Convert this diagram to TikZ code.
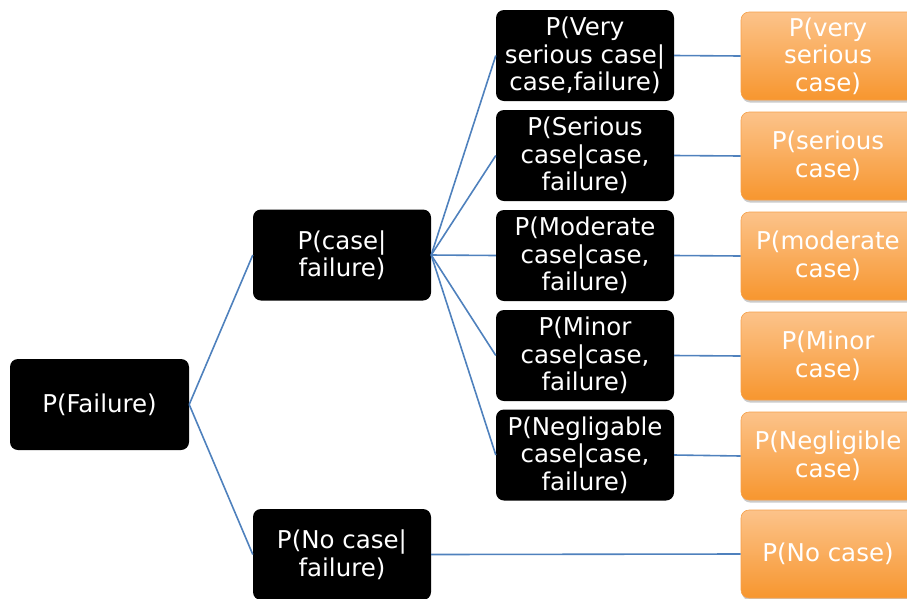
\documentclass[tikz,border=0pt]{standalone}
\usepackage{fontspec}
\setmainfont{DejaVu Sans}
\usetikzlibrary{shadows}
\definecolor{linkblue}{HTML}{4F81BD}
\definecolor{orangetop}{HTML}{FCC38A}
\definecolor{orangebot}{HTML}{F7962F}
\definecolor{orangeedge}{HTML}{F6A04A}
\begin{document}
\begin{tikzpicture}[x=1pt,y=-1pt,
  every node/.style={font=\fontsize{24.5}{27.5}\selectfont, align=center, text=white, inner sep=0pt},
  blackbox/.style={fill=black, rounded corners=8pt, minimum width=178pt, minimum height=91pt},
  orangebox/.style={top color=orangetop, bottom color=orangebot, draw=orangeedge, line width=0.6pt,
    rounded corners=8pt, minimum width=174pt, minimum height=88pt,
    drop shadow={shadow xshift=1pt, shadow yshift=-2.5pt, fill=black!45, opacity=0.45}},
  link/.style={draw=linkblue, line width=1.6pt}]
\useasboundingbox (0,0) rectangle (907,598);

% root and first split
\node[blackbox, minimum width=179pt] (fail) at (99.5,404.5) {P(Failure)};
\node[blackbox] (case) at (342,255) {P(case|\\failure)};
\node[blackbox] (nocase) at (342,554.5) {P(No case|\\failure)};

% severity given a case
\node[blackbox] (s1) at (585,55.5) {P(Very\\serious case|\\case,failure)};
\node[blackbox] (s2) at (585,155.5) {P(Serious\\case|case,\\failure)};
\node[blackbox] (s3) at (585,255.5) {P(Moderate\\case|case,\\failure)};
\node[blackbox] (s4) at (585,355.5) {P(Minor\\case|case,\\failure)};
\node[blackbox] (s5) at (585,455) {P(Negligable\\case|case,\\failure)};

% resulting probabilities
\node[orangebox] (o1) at (828,56) {P(very\\serious\\case)};
\node[orangebox] (o2) at (828,156) {P(serious\\case)};
\node[orangebox] (o3) at (828,256) {P(moderate\\case)};
\node[orangebox] (o4) at (828,356) {P(Minor\\case)};
\node[orangebox] (o5) at (828,456) {P(Negligible\\case)};
\node[orangebox] (o6) at (828,554) {P(No case)};

% connectors
\draw[link] (fail.east) -- (case.west);
\draw[link] (fail.east) -- (nocase.west);
\foreach \s in {s1,s2,s3,s4,s5} \draw[link] (case.east) -- (\s.west);
\draw[link] (s1.east) -- (o1.west);
\draw[link] (s2.east) -- (o2.west);
\draw[link] (s3.east) -- (o3.west);
\draw[link] (s4.east) -- (o4.west);
\draw[link] (s5.east) -- (o5.west);
\draw[link] (nocase.east) -- (o6.west);
\end{tikzpicture}
\end{document}
